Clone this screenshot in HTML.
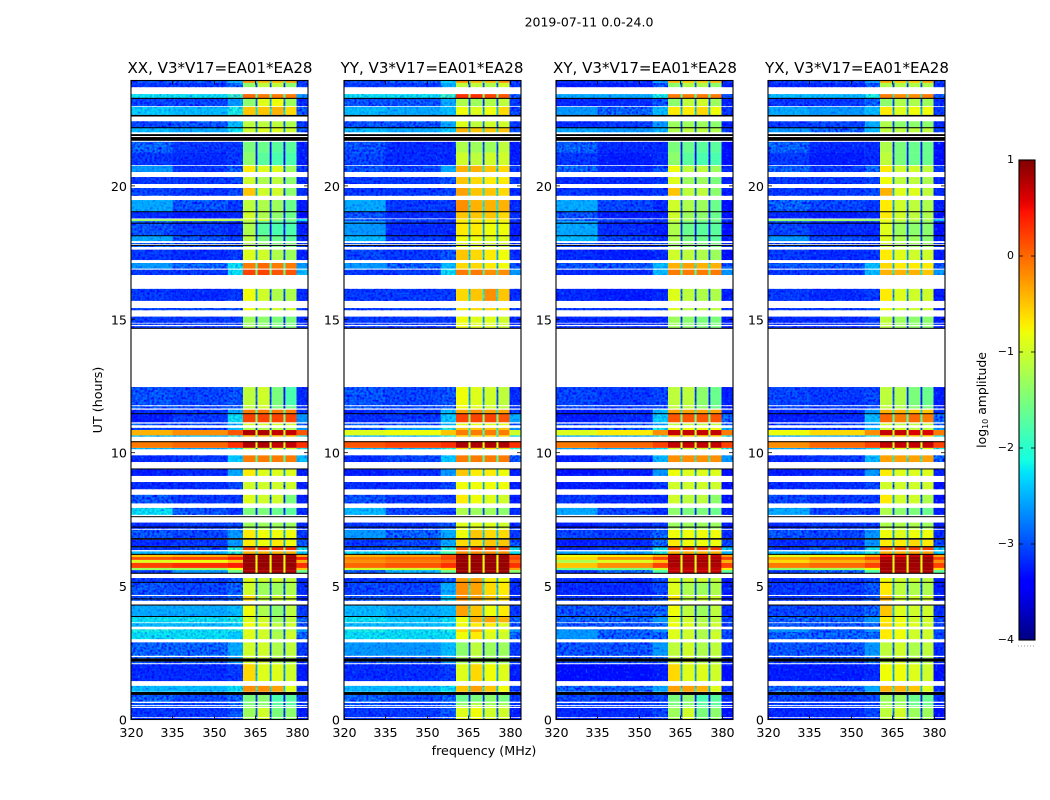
<!DOCTYPE html>
<html lang="en">
<head>
<meta charset="utf-8">
<title>2019-07-11 amplitude waterfall</title>
<style>
html,body{margin:0;padding:0;background:#fff;}
svg{display:block;}
text{font-family:"DejaVu Sans","Liberation Sans",sans-serif;fill:#000;}
</style>
</head>
<body>
<svg id="figure" width="1050" height="800" viewBox="0 0 1050 800" xmlns="http://www.w3.org/2000/svg">
  <defs>
    <filter id="speckle" filterUnits="userSpaceOnUse" x="0" y="0" width="1050" height="800" color-interpolation-filters="sRGB">
      <feTurbulence type="fractalNoise" baseFrequency="0.42" numOctaves="1" seed="3" result="n"/>
      <feColorMatrix in="n" type="matrix" values="0 0 0 0 0  1.7 0 0 0 -0.85  0 0 0 0 1  0 2.4 0 0 -0.8"/>
      <feComposite in2="SourceAlpha" operator="in" result="s"/>
      <feMerge><feMergeNode in="SourceGraphic"/><feMergeNode in="s"/></feMerge>
    </filter>
    <filter id="speckle-soft" filterUnits="userSpaceOnUse" x="0" y="0" width="1050" height="800" color-interpolation-filters="sRGB">
      <feTurbulence type="fractalNoise" baseFrequency="0.42" numOctaves="1" seed="8" result="n"/>
      <feColorMatrix in="n" type="matrix" values="0 0 0 0 0  1.8 0 0 0 -0.5  0 0 0 0 1  0 1.3 0 0 -0.45"/>
      <feComposite in2="SourceAlpha" operator="in" result="s"/>
      <feMerge><feMergeNode in="SourceGraphic"/><feMergeNode in="s"/></feMerge>
    </filter>
    <linearGradient id="jet-gradient" x1="0" y1="1" x2="0" y2="0"></linearGradient>
  </defs>
  <rect x="0" y="0" width="1050" height="800" fill="#fff"/>
  <text x="589" y="26.5" text-anchor="middle" font-size="12.5">2019-07-11 0.0-24.0</text>
  <text x="220" y="73" text-anchor="middle" font-size="15.05">XX, V3*V17=EA01*EA28</text>
  <text x="432" y="73" text-anchor="middle" font-size="15.05">YY, V3*V17=EA01*EA28</text>
  <text x="645" y="73" text-anchor="middle" font-size="15.05">XY, V3*V17=EA01*EA28</text>
  <text x="857" y="73" text-anchor="middle" font-size="15.05">YX, V3*V17=EA01*EA28</text>
  <text x="0" y="0" transform="translate(102,400) rotate(-90)" text-anchor="middle" font-size="12.7">UT (hours)</text>
  <text x="484" y="755" text-anchor="middle" font-size="12.7">frequency (MHz)</text>
  <text x="0" y="0" transform="translate(986,400) rotate(-90)" text-anchor="middle" font-size="12.4">log<tspan font-size="8" dy="2">10</tspan><tspan dy="-2"> amplitude</tspan></text>
  <g id="panels"></g>
  <g id="colorbar"></g>
</svg>
<script>
// ---- axis ticks ----
const xTickValues = [320, 335, 350, 365, 380];
const yTickValues = [0, 5, 10, 15, 20];
const colorbarTickValues = [1, 0, -1, -2, -3, -4];

// ---- frequency segments (MHz) ----
const lowBandEdges = [320, 335, 355, 360.5];
const subbandEdges = [[360.5, 365], [365.7, 370.1], [370.8, 375.1], [375.8, 379.8]];
const tailEdges = [379.8, 384];
const notchEdges = [[365, 365.7], [370.1, 370.8], [375.1, 375.8]];
const notchDrop = [1.7, 1.7, 1.7];

// ---- integrations: [top hour, bottom hour] (absent spans are flagged and stay white) ----
const utBins = [
[23.95,23.86],[23.86,23.70],[23.44,23.28],[23.28,22.99],[22.96,22.66],[22.42,22.17],[22.17,22.01],[21.65,21.25],
[21.25,20.78],[20.75,20.52],[20.33,20.07],[19.92,19.63],[19.47,19.04],[19.04,18.78],[18.75,18.68],[18.68,18.14],
[18.14,17.93],[17.86,17.82],[17.75,17.71],[17.61,17.22],[17.11,16.90],[16.86,16.66],[16.14,15.69],[15.42,15.34],
[15.10,14.87],[14.84,14.79],[14.74,14.67],[12.46,11.78],[11.74,11.66],[11.61,11.47],[11.47,11.14],[11.09,11.03],
[10.93,10.85],[10.85,10.65],[10.65,10.60],[10.43,10.18],[10.18,10.13],[9.90,9.65],[9.40,9.13],[8.90,8.63],
[8.42,8.10],[7.93,7.67],[7.38,7.21],[7.21,7.15],[7.11,6.80],[6.74,6.50],[6.45,6.35],[6.30,6.20],
[6.20,6.09],[6.09,5.98],[5.98,5.87],[5.87,5.68],[5.68,5.60],[5.60,5.49],[5.30,5.15],[5.15,4.67],
[4.63,4.45],[4.27,3.88],[3.86,3.64],[3.61,3.48],[3.38,3.28],[3.28,3.01],[2.89,2.39],[2.34,2.29],
[2.17,2.11],[2.07,1.44],[1.26,1.04],[0.92,0.67],[0.62,0.54],[0.50,0.47],[0.43,0.09],[0.06,0.00]
];

// ---- saturated/dead integrations drawn black: [top hour, bottom hour] ----
const blackSpans = [
[23.30,23.26],[22.66,22.60],[22.20,22.16],[21.94,21.87],[21.83,21.69],[19.05,19.02],[18.62,18.59],[18.15,18.12],
[17.79,17.75],[14.68,14.65],[11.48,11.45],[10.43,10.40],[9.41,9.38],[7.62,7.59],[7.23,7.19],[6.80,6.74],
[6.50,6.45],[6.21,6.17],[5.50,5.46],[5.16,5.13],[4.54,4.50],[4.31,4.27],[3.88,3.85],[2.29,2.17],[1.03,0.92]
];

// ---- log10 amplitude per bin: [320-335, 335-355, 355-360, sb1, sb2, sb3, sb4, 380-384] ----
const xxLevels = [
[-2.9,-2.8,-2.5,-0.2,-0.4,-0.4,-0.3,-3],[-3,-3,-2.7,-1.4,-1.1,-1.1,-1.4,-3],[-2.2,-2.2,-1.9,0,-0.1,-0.1,-0.1,-2.6],[-2.9,-2.9,-2.6,-1.4,-0.9,-0.8,-1.3,-3.1],
[-2.3,-2.4,-2.1,-0.5,-0.5,-0.4,-0.6,-2.8],[-2.9,-2.8,-2.4,-1.1,-1.1,-1.1,-1.2,-3],[-2.4,-2.5,-2.2,-1,-0.9,-0.9,-1,-2.8],[-2.7,-3,-3,-1.5,-1.6,-1.7,-1.7,-3.2],
[-3,-3.1,-3,-1.4,-1.7,-1.8,-1.8,-3.2],[-2.6,-3,-2.7,-0.7,-0.9,-0.9,-1.3,-3],[-3,-3,-2.9,-1,-1.2,-1.1,-1.4,-3.1],[-2.9,-3,-2.9,-0.5,-1,-1,-1.4,-3.1],
[-2.5,-2.8,-3,-1.1,-1.2,-1.3,-1.6,-3.2],[-3.1,-3.2,-3.1,-1,-1.2,-1.4,-1.6,-3.3],[-1.3,-1.1,-1.2,-1,-1,-1.4,-1.5,-2.2],[-2.8,-3,-3.1,-1.2,-1.7,-1.8,-1.8,-3.2],
[-2.5,-2.8,-3,-1.1,-1.5,-1.6,-1.7,-3.1],[-2.7,-2.8,-2.8,-1.2,-1.4,-1.5,-1.5,-3],[-2.7,-2.8,-2.8,-1.2,-1.4,-1.5,-1.5,-3],[-3,-3.1,-3,-0.9,-1,-1.2,-1.3,-3.2],
[-2.6,-2.7,-2.2,-0.1,0,-0.1,-0.1,-2.6],[-3,-3,-2.2,0.2,0.2,0.1,0.1,-2.4],[-3,-3.1,-3,-0.8,-1,-1.2,-1.2,-3.1],[-2.9,-2.9,-2.8,-0.8,-1,-1,-1,-3],
[-3,-3,-3,-1.3,-1.4,-1.5,-1.5,-3.1],[-3,-3,-3,-1.3,-1.4,-1.5,-1.5,-3.1],[-3,-3,-3,-1.3,-1.4,-1.5,-1.5,-3.1],[-2.8,-2.9,-2.8,-1.1,-1,-1.5,-1.8,-3.1],
[-2.8,-2.9,-2.8,-1.1,-1,-1.5,-1.6,-3.1],[-3.1,-3,-2.5,-0.1,-0.1,-0.1,-0.1,-3],[-3.2,-3,-2.2,0.2,0.2,0.2,0.2,-2.6],[-2.8,-2.8,-2.5,-1,-1,-1,-1,-2.8],
[-3,-3,-2.4,-1.2,-1.2,-1.2,-1.2,-2.6],[-0.4,-0.2,0.1,0.8,0.8,0.7,0.7,0.1],[-2.4,-2.4,-2,-0.5,-0.5,-0.5,-0.5,-2],[-0.1,0,0.3,0.8,0.8,0.7,0.7,0.3],
[-2.4,-2.5,-2.2,-1,-1,-1,-1,-2],[-3.1,-3,-2.3,-0.1,-0.1,-0.1,-0.1,-2.4],[-3.2,-3.1,-2.5,-0.7,-0.9,-0.9,-0.9,-3.2],[-3.1,-3.1,-2.9,-1,-1,-1,-1,-3.2],
[-2.8,-3,-3,-0.9,-1,-1,-1.5,-3.2],[-2.2,-2.8,-3,-1.5,-1.5,-1.6,-1.7,-3.1],[-3.1,-3,-2.9,-1.3,-1.3,-1.3,-1.3,-3.1],[-3.1,-3,-2.9,-1.3,-1.3,-1.3,-1.3,-3.1],
[-2.8,-2.9,-2.6,-0.7,-0.8,-0.8,-0.8,-3],[-3.1,-3,-2.6,-0.7,-0.8,-0.7,-0.8,-2.8],[-3,-2.8,-2.1,0.2,0.3,0.3,0.3,-2.2],[-2.4,-2.4,-2,-0.4,-0.4,-0.4,-0.4,-2.3],
[-0.5,-0.4,-0.1,0.85,0.85,0.85,0.85,-0.3],[0.1,0.2,0.4,0.9,0.9,0.9,0.9,0.4],[-0.9,-0.8,-0.5,0.9,0.9,0.9,0.9,-0.4],[0.2,0.3,0.4,0.9,0.9,0.9,0.9,0.3],
[-1.3,-1.3,-0.8,0.85,0.85,0.85,0.85,-0.5],[-3,-2.6,-1.6,0.8,0.8,0.8,0.8,-1.6],[-3,-3,-2.8,-0.9,-1,-1,-1.1,-3.1],[-2.8,-2.9,-2.7,-1,-1.3,-1.3,-1.2,-3.1],
[-2.8,-2.9,-2.7,-0.6,-1.1,-1,-1,-3.1],[-2.5,-2.5,-2.4,-0.8,-1.2,-1.4,-1.1,-3],[-2.2,-2.2,-2.1,-0.9,-1,-1.3,-1.1,-2.7],[-2.4,-2.4,-2.3,-0.8,-0.9,-1.1,-1,-2.9],
[-2.1,-2.2,-2.1,-0.9,-1,-1.3,-1.1,-2.6],[-2.2,-2.2,-2.3,-0.9,-1,-1.2,-1,-2.7],[-2.7,-2.7,-2.5,-1,-1,-1.2,-1.1,-3],[-2.8,-2.8,-2.6,-1,-1,-1.2,-1.2,-3],
[-2.8,-2.8,-2.6,-1,-1,-1.2,-1.2,-3],[-3.1,-3.1,-3,-0.6,-0.9,-0.9,-1,-3.2],[-2.4,-2.4,-2.2,-0.2,-0.2,-0.3,-0.9,-3],[-2.7,-2.9,-2.7,-1.5,-1.4,-1.8,-1.7,-3],
[-2.8,-2.9,-2.7,-1.5,-1.4,-1.7,-1.7,-3],[-2.8,-2.9,-2.7,-1.4,-1.4,-1.7,-1.6,-3],[-3,-3,-2.8,-1.3,-1,-1.5,-1.4,-3.2],[-3,-3,-2.8,-1.3,-1,-1.5,-1.4,-3.2]
];
const yyLevels = [
[-2.9,-2.8,-2.3,-0.2,-0.4,-0.4,-0.2,-3],[-3,-3,-2.5,-1.1,-1.1,-1.2,-1,-3],[-2.2,-2.2,-1.9,0.3,0.3,0.2,0.1,-2.7],[-2.8,-2.8,-2.5,-1.2,-1.3,-1.2,-1.1,-3],
[-2.4,-2.5,-2.4,-0.8,-0.9,-0.8,-0.6,-2.9],[-2.8,-2.8,-2.5,-0.9,-1.1,-1,-1,-3],[-2.4,-2.5,-2.3,-0.4,-0.5,-0.5,-0.5,-2.9],[-2.8,-3.1,-3.1,-1.2,-1.3,-1.3,-1.1,-3.2],
[-2.9,-3.1,-3.1,-1,-1.1,-1,-1,-3.2],[-2.8,-2.9,-2.5,-0.4,-0.4,-0.5,-0.6,-3],[-3,-3,-2.8,-0.5,-0.6,-0.7,-0.7,-3],[-3,-3,-2.9,-0.3,-0.5,-0.5,-0.6,-3.1],
[-2.5,-3,-3,-0.2,-0.4,-0.4,-0.4,-3.1],[-2.8,-3.1,-3.1,-0.5,-0.5,-0.5,-0.6,-3.1],[-2.8,-2.9,-3,-0.7,-0.7,-0.7,-0.7,-3],[-2.6,-3.1,-3.1,-0.7,-0.7,-0.8,-0.8,-3.2],
[-2.4,-3,-3.1,-0.8,-0.8,-0.9,-0.9,-3.1],[-2.8,-2.9,-2.8,-0.9,-0.9,-1,-1,-3],[-2.8,-2.9,-2.8,-0.9,-0.9,-1,-1,-3],[-2.9,-3,-2.8,-0.5,-0.6,-0.7,-0.8,-3.1],
[-2.6,-2.7,-2.4,-0.6,-0.6,-0.7,-0.8,-2.8],[-3,-3,-2.2,-0.1,-0.1,-0.2,-0.2,-2.6],[-3,-3,-3,-0.6,-0.5,-0.2,-0.5,-3.1],[-3,-3,-2.8,-0.7,-0.6,-0.6,-0.7,-3],
[-3,-3,-3,-0.8,-0.9,-0.9,-1,-3.1],[-3,-3,-3,-0.8,-0.9,-0.9,-1,-3.1],[-3,-3,-3,-0.8,-0.9,-0.9,-1,-3.1],[-2.8,-2.9,-2.8,-0.8,-0.9,-1,-1.1,-3.1],
[-2.8,-2.9,-2.8,-0.8,-0.9,-1,-1.1,-3.1],[-3.1,-3,-2.4,-0.3,-0.2,-0.3,-0.3,-3],[-3.1,-3,-2.3,0.2,0.2,0.2,0.1,-2.5],[-2.8,-2.8,-2.5,-0.9,-0.9,-0.9,-0.9,-2.9],
[-2.8,-2.6,-2,-0.5,-0.5,-0.5,-0.5,-2.6],[-0.9,-0.8,-0.5,-0.1,-0.1,-0.1,-0.1,-1],[-2.4,-2.4,-2,-0.6,-0.6,-0.6,-0.6,-2.2],[0.1,0.2,0.3,0.8,0.8,0.8,0.8,0.3],
[-2.4,-2.4,-2,-0.6,-0.6,-0.6,-0.6,-2],[-3.1,-2.9,-2.3,-0.1,-0.1,-0.1,-0.1,-2.8],[-3.2,-3.1,-2.6,-0.5,-0.7,-0.7,-0.8,-3.2],[-3.1,-3.1,-2.9,-0.8,-0.8,-0.8,-0.8,-3.2],
[-2.8,-3,-3,-0.7,-0.8,-0.9,-1,-3.2],[-2.4,-2.9,-3,-1.2,-1.3,-1.3,-1.4,-3.1],[-3,-3,-2.8,-0.9,-0.9,-0.9,-1,-3.1],[-3,-3,-2.8,-0.9,-0.9,-0.9,-1,-3.1],
[-2.6,-2.7,-2.5,-0.8,-0.5,-0.6,-0.6,-3],[-3,-2.9,-2.5,-0.6,-0.6,-0.5,-0.5,-2.8],[-2.9,-2.7,-2.1,0.1,0.2,0.2,0.2,-2.2],[-2.2,-2.2,-1.8,-0.2,-0.2,-0.2,-0.2,-2.2],
[-0.4,-0.3,0.1,0.9,0.9,0.9,0.9,0.1],[-0.1,0,0.2,0.9,0.9,0.9,0.9,0.2],[-0.2,-0.1,0,0.9,0.9,0.9,0.9,0],[0,0.1,0.3,0.9,0.9,0.9,0.9,0.3],
[-1,-1,-0.6,0.9,0.9,0.9,0.9,-0.3],[-2.8,-2.4,-1.6,0.85,0.85,0.85,0.85,-1.4],[-3,-3,-2.8,-0.3,-0.3,-0.7,-0.8,-3.1],[-2.9,-2.9,-2.5,-0.2,-0.3,-0.6,-0.7,-3.1],
[-2.8,-2.9,-2.3,-0.2,-0.3,-0.5,-0.6,-3.1],[-2.4,-2.5,-2.4,-0.3,-0.5,-0.8,-0.7,-3],[-2.2,-2.3,-2.2,-0.8,-0.4,-0.3,-0.4,-2.7],[-2.4,-2.4,-2.3,-0.8,-0.7,-0.7,-0.9,-2.9],
[-2.1,-2.2,-2.1,-0.6,-0.4,-0.8,-0.9,-2.6],[-2.2,-2.2,-2.2,-0.8,-0.7,-0.9,-1,-2.7],[-2.6,-2.6,-2.4,-1.4,-1.1,-1.3,-1.3,-3],[-2.8,-2.8,-2.6,-1.3,-1.2,-1.3,-1.3,-3],
[-2.8,-2.8,-2.6,-1.3,-1.2,-1.3,-1.3,-3],[-3.1,-3.1,-3,-0.9,-0.6,-0.8,-0.9,-3.2],[-2.4,-2.4,-2.2,-0.5,-0.3,-0.5,-0.8,-3],[-2.7,-2.9,-2.7,-1.6,-1.5,-1.4,-1.5,-3],
[-2.8,-2.9,-2.7,-1.4,-1.2,-1.3,-1.3,-3],[-2.8,-2.9,-2.7,-1.2,-1,-1.1,-1.1,-3],[-3,-3,-2.8,-0.9,-0.8,-1,-1,-3.2],[-3,-3,-2.8,-0.9,-0.8,-1,-1,-3.2]
];
const xyLevels = [
[-3.1,-3,-2.6,-0.4,-0.5,-0.5,-0.4,-3.1],[-3.2,-3.2,-2.8,-1.4,-1.2,-1.2,-1.4,-3.2],[-2.5,-2.5,-2.1,-0.1,-0.1,-0.1,-0.1,-2.8],[-3.1,-3.1,-2.8,-1.4,-1.1,-1,-1.3,-3.2],
[-2.6,-2.7,-2.4,-0.7,-0.7,-0.6,-0.8,-3],[-3.1,-3,-2.6,-1.3,-1.3,-1.3,-1.4,-3.2],[-2.5,-2.6,-2.4,-1.2,-1.1,-1.1,-1.2,-3],[-2.7,-3.1,-3.1,-1.5,-1.6,-1.7,-1.7,-3.3],
[-3,-3.2,-3.1,-1.4,-1.7,-1.8,-1.8,-3.3],[-2.7,-3.1,-2.8,-0.8,-1.1,-1.1,-1.3,-3.1],[-3.1,-3.1,-3,-0.9,-1.3,-1.3,-1.5,-3.2],[-3,-3.1,-3,-0.5,-1.1,-1.1,-1.4,-3.2],
[-2.5,-2.9,-3.1,-1,-1.2,-1.3,-1.6,-3.3],[-2.8,-3.2,-3.2,-1,-1.3,-1.4,-1.6,-3.3],[-2.7,-2.9,-3,-1,-1.2,-1.4,-1.5,-3],[-2.5,-3.1,-3.2,-1.2,-1.6,-1.7,-1.7,-3.3],
[-2.4,-2.9,-3.1,-1.2,-1.5,-1.6,-1.7,-3.2],[-2.9,-3,-2.9,-1.3,-1.4,-1.5,-1.5,-3.1],[-2.9,-3,-2.9,-1.3,-1.4,-1.5,-1.5,-3.1],[-3.1,-3.2,-3.1,-1,-1.1,-1.2,-1.3,-3.3],
[-2.8,-2.8,-2.4,-0.4,-0.3,-0.4,-0.4,-2.8],[-3.1,-3.1,-2.4,-0.1,-0.1,-0.1,-0.1,-2.6],[-3.1,-3.2,-3.1,-0.9,-1.1,-1.2,-1.2,-3.2],[-3,-3,-2.9,-0.9,-1.1,-1.1,-1.1,-3.1],
[-3.1,-3.1,-3.1,-1.3,-1.4,-1.5,-1.5,-3.2],[-3.1,-3.1,-3.1,-1.3,-1.4,-1.5,-1.5,-3.2],[-3.1,-3.1,-3.1,-1.3,-1.4,-1.5,-1.5,-3.2],[-2.9,-3,-2.9,-1.1,-1.1,-1.4,-1.6,-3.2],
[-2.9,-3,-2.9,-1.1,-1.1,-1.4,-1.6,-3.2],[-3.2,-3.1,-2.4,-0.3,-0.3,-0.3,-0.3,-3.1],[-3.2,-3.1,-2.3,0.1,0.1,0.1,0.1,-2.7],[-2.9,-2.9,-2.6,-1.1,-1.1,-1.1,-1.1,-2.9],
[-3,-2.8,-2.1,-0.8,-0.8,-0.8,-0.8,-2.4],[-0.9,-0.7,-0.2,0.7,0.7,0.7,0.7,-0.1],[-2.5,-2.5,-2,-0.6,-0.6,-0.6,-0.6,-2.1],[-0.1,0,0.2,0.7,0.7,0.7,0.7,0.2],
[-2.5,-2.5,-2.2,-1,-1,-1,-1,-2.1],[-3.2,-3,-2.4,-0.2,-0.2,-0.2,-0.2,-2.6],[-3.3,-3.2,-2.6,-0.8,-0.9,-0.9,-0.9,-3.3],[-3.2,-3.2,-3,-1,-1,-1,-1,-3.3],
[-3,-3.1,-3.1,-1,-1.1,-1.1,-1.4,-3.3],[-2.5,-2.9,-3.1,-1.4,-1.5,-1.5,-1.6,-3.2],[-3.2,-3.1,-3,-1.3,-1.3,-1.3,-1.3,-3.2],[-3.2,-3.1,-3,-1.3,-1.3,-1.3,-1.3,-3.2],
[-2.9,-3,-2.7,-0.8,-0.8,-0.8,-0.8,-3.1],[-3.2,-3.1,-2.7,-0.7,-0.8,-0.8,-0.8,-2.9],[-3.1,-2.9,-2.2,0.2,0.2,0.2,0.2,-2.3],[-2.5,-2.5,-2,-0.4,-0.4,-0.4,-0.4,-2.4],
[-0.8,-0.7,-0.4,0.7,0.7,0.7,0.7,-0.3],[-0.6,-0.2,0.2,0.8,0.8,0.8,0.8,0.2],[-1.2,-0.9,-0.5,0.85,0.85,0.85,0.85,-0.4],[-0.5,-0.2,0.2,0.8,0.8,0.8,0.8,0.2],
[-1.6,-1.5,-1,0.7,0.7,0.7,0.7,-0.7],[-3.1,-2.7,-1.8,0.7,0.7,0.7,0.7,-1.7],[-3.1,-3.1,-2.9,-0.9,-1,-1,-1.1,-3.2],[-3.1,-3.1,-2.9,-0.9,-1.2,-1.3,-1.2,-3.2],
[-3,-3,-2.8,-0.7,-1.1,-1,-1,-3.2],[-2.8,-2.8,-2.7,-0.8,-1.1,-1.3,-1.1,-3.1],[-2.7,-2.7,-2.6,-0.9,-1,-1.2,-1.1,-2.9],[-2.8,-2.8,-2.7,-0.8,-0.9,-1.1,-1,-3],
[-2.6,-2.7,-2.6,-0.9,-1,-1.2,-1.1,-2.8],[-2.6,-2.7,-2.7,-0.9,-1,-1.2,-1,-2.9],[-2.8,-2.8,-2.6,-1.1,-1,-1.2,-1.1,-3.1],[-2.9,-2.9,-2.7,-1.1,-1,-1.2,-1.2,-3.1],
[-2.9,-2.9,-2.7,-1.1,-1,-1.2,-1.2,-3.1],[-3.3,-3.3,-3.2,-0.6,-0.9,-0.9,-1,-3.3],[-2.7,-2.7,-2.5,-0.3,-0.3,-0.4,-0.9,-3.1],[-2.9,-3,-2.9,-1.5,-1.4,-1.8,-1.7,-3.1],
[-2.9,-3,-2.9,-1.5,-1.4,-1.7,-1.7,-3.1],[-2.9,-3,-2.9,-1.4,-1.4,-1.7,-1.6,-3.1],[-3.1,-3.1,-2.9,-1.3,-1,-1.5,-1.4,-3.3],[-3.1,-3.1,-2.9,-1.3,-1,-1.5,-1.4,-3.3]
];
const yxLevels = [
[-3,-2.9,-2.6,-0.3,-0.5,-0.5,-0.3,-3],[-3.1,-3.1,-2.8,-1.2,-1.2,-1.2,-1.2,-3.1],[-2.4,-2.4,-2.1,-0.1,-0.2,-0.2,-0.1,-2.8],[-3,-3,-2.7,-1.4,-1.2,-1.2,-1.3,-3.1],
[-2.5,-2.6,-2.4,-0.7,-0.9,-0.8,-0.8,-3],[-3,-2.9,-2.5,-1.2,-1.4,-1.4,-1.4,-3.1],[-2.6,-2.7,-2.4,-1.1,-1.1,-1.1,-1.1,-3],[-2.7,-3.1,-3.1,-1.2,-1.5,-1.6,-1.6,-3.3],
[-3,-3.2,-3.1,-1.1,-1.5,-1.6,-1.6,-3.3],[-2.7,-3,-2.7,-0.7,-1,-1,-1.1,-3],[-3,-3,-2.9,-0.8,-1.1,-1.1,-1.2,-3.1],[-3,-3,-2.9,-0.4,-0.9,-0.9,-1.1,-3.1],
[-2.7,-2.9,-3,-0.7,-1,-1.1,-1.2,-3.2],[-3.1,-3.2,-3.1,-0.7,-1,-1.1,-1.2,-3.3],[-1.4,-1.3,-1.4,-0.8,-1,-1.1,-1.2,-2.4],[-2.9,-3.1,-3.1,-0.9,-1.3,-1.4,-1.4,-3.3],
[-2.6,-2.9,-3,-0.9,-1.2,-1.3,-1.4,-3.2],[-2.8,-2.9,-2.9,-1,-1.2,-1.3,-1.3,-3.1],[-2.8,-2.9,-2.9,-1,-1.2,-1.3,-1.3,-3.1],[-3,-3.1,-3,-0.7,-0.9,-1,-1,-3.2],
[-2.8,-2.8,-2.4,-0.6,-0.7,-0.7,-0.7,-2.8],[-3,-3,-2.4,-0.4,-0.4,-0.4,-0.5,-2.6],[-3,-3.1,-3,-0.7,-0.9,-1,-1,-3.2],[-3,-3,-2.9,-0.8,-1,-1,-1,-3.1],
[-3.1,-3.1,-3,-1.1,-1.3,-1.4,-1.4,-3.2],[-3.1,-3.1,-3,-1.1,-1.3,-1.4,-1.4,-3.2],[-3.1,-3.1,-3,-1.1,-1.3,-1.4,-1.4,-3.2],[-2.9,-3,-2.9,-1.1,-1.2,-1.5,-1.6,-3.2],
[-2.9,-3,-2.9,-1.1,-1.2,-1.4,-1.5,-3.2],[-3.1,-3.1,-2.6,-0.4,-0.4,-0.5,-0.5,-3],[-3.2,-3.1,-2.4,0,-0.1,0,-0.1,-2.7],[-2.9,-2.9,-2.6,-1,-1.1,-1.1,-1.1,-2.9],
[-3,-3,-2.4,-1,-1,-1.1,-1.1,-2.6],[-0.8,-0.6,-0.2,0.7,0.7,0.6,0.6,-0.1],[-2.5,-2.5,-2.1,-0.6,-0.6,-0.6,-0.6,-2.1],[-0.2,0,0.2,0.7,0.7,0.7,0.7,0.2],
[-2.5,-2.5,-2.2,-0.9,-0.9,-0.9,-0.9,-2.1],[-3.1,-3,-2.4,-0.3,-0.3,-0.3,-0.3,-2.7],[-3.2,-3.1,-2.6,-0.7,-0.9,-0.9,-0.9,-3.2],[-3.1,-3.1,-2.9,-1,-1,-1,-1,-3.3],
[-2.9,-3,-3,-0.7,-1,-1,-1.2,-3.3],[-2.5,-2.9,-3,-1.2,-1.4,-1.5,-1.6,-3.2],[-3.1,-3,-2.9,-1.2,-1.2,-1.2,-1.3,-3.2],[-3.1,-3,-2.9,-1.2,-1.2,-1.2,-1.3,-3.2],
[-2.8,-2.9,-2.6,-0.8,-0.9,-0.8,-0.8,-3.1],[-3.1,-3,-2.6,-0.7,-0.7,-0.6,-0.7,-2.9],[-3,-2.8,-2.2,0.1,0.2,0.2,0.2,-2.3],[-2.4,-2.4,-2,-0.4,-0.4,-0.3,-0.3,-2.3],
[-0.9,-0.8,-0.4,0.5,0.5,0.7,0.7,-0.3],[-0.3,-0.1,0.2,0.8,0.8,0.9,0.9,0.2],[-0.6,-0.4,-0.2,0.85,0.85,0.9,0.9,-0.2],[-0.1,0,0.2,0.85,0.85,0.85,0.85,0.2],
[-1.4,-1.3,-0.8,0.85,0.85,0.85,0.85,-0.6],[-3,-2.7,-1.8,0.8,0.8,0.8,0.8,-1.7],[-3.1,-3,-2.9,-0.8,-1,-1,-1.1,-3.2],[-3,-3,-2.8,-0.7,-1.1,-1.2,-1.2,-3.2],
[-3,-3,-2.8,-0.4,-1,-1,-1,-3.2],[-2.9,-2.9,-2.7,-0.5,-0.9,-1,-1,-3.1],[-2.7,-2.7,-2.6,-0.7,-0.8,-1,-1,-2.9],[-2.8,-2.8,-2.7,-0.6,-0.8,-0.9,-1,-3],
[-2.6,-2.7,-2.6,-0.7,-0.8,-1,-1,-2.8],[-2.7,-2.7,-2.7,-0.7,-0.8,-1,-1,-2.9],[-2.8,-2.8,-2.6,-1.1,-1,-1.2,-1.1,-3.1],[-2.9,-2.9,-2.7,-1.1,-1,-1.2,-1.2,-3.1],
[-2.9,-2.9,-2.7,-1.1,-1,-1.2,-1.2,-3.1],[-3.2,-3.2,-3.1,-0.8,-0.8,-0.9,-1,-3.3],[-2.7,-2.7,-2.5,-0.4,-0.4,-0.5,-0.9,-3.1],[-2.9,-3,-2.9,-1.3,-1.3,-1.6,-1.6,-3.1],
[-2.9,-3,-2.9,-1.3,-1.3,-1.6,-1.6,-3.1],[-2.9,-3,-2.9,-1.2,-1.2,-1.5,-1.5,-3.1],[-3.1,-3.1,-2.9,-1.1,-1,-1.3,-1.3,-3.3],[-3.1,-3.1,-2.9,-1.1,-1,-1.3,-1.3,-3.3]
];
const panelLevels = [xxLevels, yyLevels, xyLevels, yxLevels];
const panelNames = ["xx", "yy", "xy", "yx"];

// ---- layout ----
const SVGNS = "http://www.w3.org/2000/svg";
const panelLeft = [131, 344, 556, 768];
const PANEL_W = 177, PLOT_TOP = 80.5, PLOT_BOTTOM = 719.5;
const F_MIN = 320, F_MAX = 384, UT_MIN = 0, UT_MAX = 23.95;
const CB_X = 1019, CB_W = 16, CB_TOP = 160, CB_BOTTOM = 640, CB_MIN = -4, CB_MAX = 1;
const SPECKLE_BELOW = -2.65, SOFT_SPECKLE_BELOW = -1.8;

function xScale(p, mhz) { return panelLeft[p] + (mhz - F_MIN) / (F_MAX - F_MIN) * PANEL_W; }
function yScale(h) { return PLOT_BOTTOM - (h - UT_MIN) / (UT_MAX - UT_MIN) * (PLOT_BOTTOM - PLOT_TOP); }
function cbScale(v) { return CB_BOTTOM - (v - CB_MIN) / (CB_MAX - CB_MIN) * (CB_BOTTOM - CB_TOP); }

function lerpTable(tbl, t) {
  for (let i = 1; i < tbl.length; i++) {
    if (t <= tbl[i][0]) {
      const a = tbl[i - 1], b = tbl[i];
      return a[1] + (b[1] - a[1]) * (t - a[0]) / (b[0] - a[0]);
    }
  }
  return tbl[tbl.length - 1][1];
}
const jetR = [[0, 0], [.35, 0], [.66, 1], [.89, 1], [1, .5]];
const jetG = [[0, 0], [.125, 0], [.375, 1], [.64, 1], [.91, 0], [1, 0]];
const jetB = [[0, .5], [.11, 1], [.34, 1], [.65, 0], [1, 0]];
function jet(t) {
  t = Math.max(0, Math.min(1, t));
  const c = tbl => Math.round(255 * lerpTable(tbl, t));
  return "rgb(" + c(jetR) + "," + c(jetG) + "," + c(jetB) + ")";
}
function levelColor(v) { return jet((v - CB_MIN) / (CB_MAX - CB_MIN)); }

function svgEl(tag, props, parent) {
  const el = document.createElementNS(SVGNS, tag);
  for (const k in props) el.setAttribute(k, props[k]);
  parent.appendChild(el);
  return el;
}

function drawCell(p, f0, f1, bin, value, groups) {
  const y0 = yScale(bin[0]), y1 = yScale(bin[1]);
  const x0 = xScale(p, f0), x1 = xScale(p, f1);
  const target = value < SPECKLE_BELOW ? groups.noisy : (value < SOFT_SPECKLE_BELOW ? groups.soft : groups.smooth);
  const cell = svgEl("rect", {
    x: x0.toFixed(2), y: y0.toFixed(2),
    width: (x1 - x0 + 0.15).toFixed(2), height: (y1 - y0).toFixed(2),
    fill: levelColor(value)
  }, target);
  
  
}

function drawPanel(p) {
  const root = document.getElementById("panels");
  const panel = svgEl("g", {}, root);
  
  
  const noisy = svgEl("g", { filter: "url(#speckle)" }, panel);
  
  
  const soft = svgEl("g", { filter: "url(#speckle-soft)" }, panel);
  
  
  const smooth = svgEl("g", {}, panel);
  
  
  const groups = { noisy: noisy, soft: soft, smooth: smooth };

  const levels = panelLevels[p];
  utBins.forEach((bin, r) => {
    const row = levels[r];
    if (!row) return;
    for (let i = 0; i < 3; i++) drawCell(p, lowBandEdges[i], lowBandEdges[i + 1], bin, row[i], groups);
    subbandEdges.forEach((e, i) => drawCell(p, e[0], e[1], bin, row[3 + i], groups));
    notchEdges.forEach((e, i) => {
      drawCell(p, e[0], e[1], bin, (row[3 + i] + row[4 + i]) / 2 - notchDrop[i], groups);
    });
    drawCell(p, tailEdges[0], tailEdges[1], bin, row[7], groups);
  });

  blackSpans.forEach(s => {
    const y0 = yScale(s[0]), y1 = yScale(s[1]);
    const line = svgEl("rect", {
      x: panelLeft[p], y: y0.toFixed(2), width: PANEL_W,
      height: Math.max(y1 - y0, 1).toFixed(2), fill: "#000"
    }, panel);
    
    
  });

  const frame = svgEl("rect", {
    x: panelLeft[p], y: PLOT_TOP, width: PANEL_W, height: PLOT_BOTTOM - PLOT_TOP,
    fill: "none", stroke: "#000", "stroke-width": 1.1
  }, panel);
  
  

  xTickValues.forEach(v => {
    const x = Math.round(xScale(p, v)) + 0.5;
    [[PLOT_BOTTOM, PLOT_BOTTOM - 4], [PLOT_TOP, PLOT_TOP + 4]].forEach(t => {
      const tick = svgEl("line", { x1: x, x2: x, y1: t[0], y2: t[1], stroke: "#000", "stroke-width": 0.8 }, panel);
      
      
    });
    const label = svgEl("text", { x: x, y: 737, "text-anchor": "middle", "font-size": 12.7 }, panel);
    
    
    label.textContent = String(v);
  });

  yTickValues.forEach(v => {
    const y = yScale(v);
    const left = panelLeft[p], right = left + PANEL_W;
    [[left, left + 4], [right, right - 4]].forEach(t => {
      const tick = svgEl("line", { x1: t[0], x2: t[1], y1: y, y2: y, stroke: "#000", "stroke-width": 0.8 }, panel);
      
      
    });
    const label = svgEl("text", { x: left - 4, y: y + 5, "text-anchor": "end", "font-size": 12.7 }, panel);
    
    
    label.textContent = String(v);
  });
}

function drawColorbar() {
  const grad = document.getElementById("jet-gradient");
  for (let i = 0; i <= 64; i++) {
    svgEl("stop", { offset: (i / 64).toFixed(4), "stop-color": jet(i / 64) }, grad);
  }
  const root = document.getElementById("colorbar");
  const bar = svgEl("rect", {
    x: CB_X, y: CB_TOP, width: CB_W, height: CB_BOTTOM - CB_TOP,
    fill: "url(#jet-gradient)", stroke: "#000", "stroke-width": 1.1
  }, root);
  
  
  colorbarTickValues.forEach(v => {
    const y = cbScale(v);
    [[CB_X, CB_X + 4], [CB_X + CB_W, CB_X + CB_W - 4]].forEach(t => {
      const tick = svgEl("line", { x1: t[0], x2: t[1], y1: y, y2: y, stroke: "#000", "stroke-width": 0.8 }, root);
      
      
    });
    const label = svgEl("text", { x: CB_X - 5, y: y + 3, "text-anchor": "end", "font-size": 11 }, root);
    
    
    label.textContent = String(v).replace("-", "\u2212");
  });
  const dots = svgEl("line", {
    x1: CB_X - 1, x2: CB_X + CB_W, y1: 646, y2: 646,
    stroke: "#999", "stroke-width": 1, "stroke-dasharray": "1 2"
  }, root);
  
  
}

panelLevels.forEach((_, p) => drawPanel(p));
drawColorbar();
</script>
</body>
</html>
